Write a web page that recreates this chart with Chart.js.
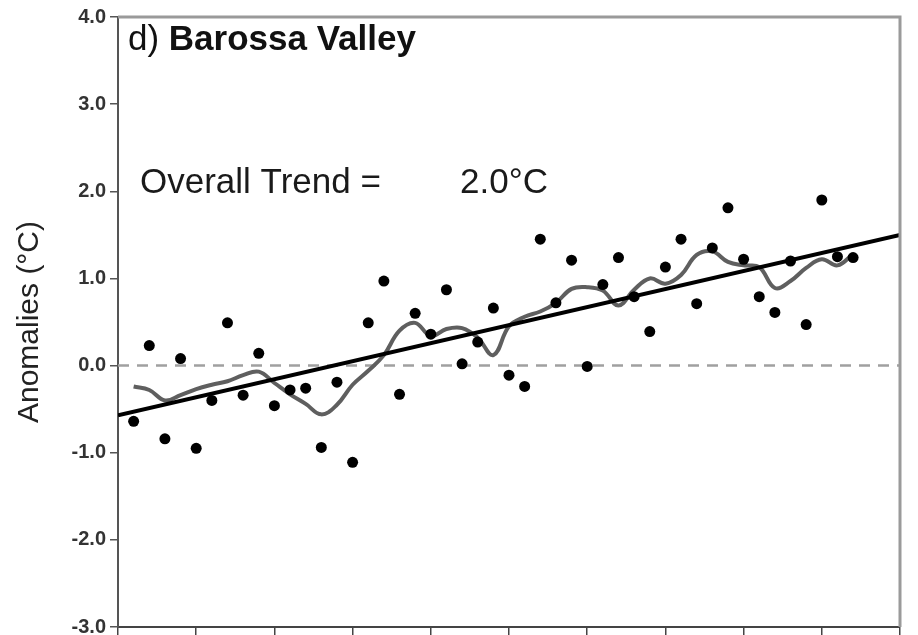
<!DOCTYPE html>
<html>
<head>
<meta charset="utf-8">
<script src="https://cdn.jsdelivr.net/npm/chart.js@4.4.0/dist/chart.umd.min.js"></script>
<style>
  html, body { margin: 0; padding: 0; background: #fff; }
  #wrap { width: 918px; height: 635px; position: relative; }
</style>
</head>
<body>
<div id="wrap"><canvas id="js-anomaly-chart"></canvas></div>
<script>
// yearly anomalies
var years = [1956, 1957, 1958, 1959, 1960, 1961, 1962, 1963, 1964, 1965,
  1966, 1967, 1968, 1969, 1970, 1971, 1972, 1973, 1974, 1975,
  1976, 1977, 1978, 1979, 1980, 1981, 1982, 1983, 1984, 1985,
  1986, 1987, 1988, 1989, 1990, 1991, 1992, 1993, 1994, 1995,
  1996, 1997, 1998, 1999, 2000, 2001, 2002]
var anomalies = [-0.64, 0.23, -0.84, 0.08, -0.95, -0.40, 0.49, -0.34, 0.14, -0.46,
  -0.28, -0.26, -0.94, -0.19, -1.11, 0.49, 0.97, -0.33, 0.60, 0.36,
  0.87, 0.02, 0.27, 0.66, -0.11, -0.24, 1.45, 0.72, 1.21, -0.01,
  0.93, 1.24, 0.79, 0.39, 1.13, 1.45, 0.71, 1.35, 1.81, 1.22,
  0.79, 0.61, 1.20, 0.47, 1.90, 1.25, 1.24]
var smoothed = [-0.24, -0.28, -0.40, -0.34, -0.27, -0.22, -0.18, -0.11, -0.07, -0.20,
  -0.33, -0.44, -0.56, -0.45, -0.22, -0.06, 0.12, 0.40, 0.49, 0.34,
  0.42, 0.43, 0.32, 0.12, 0.45, 0.56, 0.62, 0.72, 0.88, 0.90,
  0.86, 0.69, 0.87, 1.00, 0.94, 1.04, 1.27, 1.31, 1.19, 1.15,
  1.13, 0.89, 0.97, 1.12, 1.22, 1.15, 1.28]
var trendYears = [1955, 2005]
var trendValues = [-0.57, 1.50]
var yTicks = [-3, -2, -1, 0, 1, 2, 3, 4]

function pairs(xs, ys) {
  return xs.map(function (x, i) { return { x: x, y: ys[i] } })
}

var font = "'Liberation Sans', Arial, sans-serif"

// frame on top / right and the text inside the panel
var panelText = {
  id: "panelText",
  afterDraw: function (chart) {
    var c = chart.ctx
    var a = chart.chartArea
    var ys = chart.scales.y
    c.save()
    c.strokeStyle = "#9a9a9a"
    c.lineWidth = 3
    c.beginPath()
    c.moveTo(a.left, a.top)
    c.lineTo(a.right, a.top)
    c.lineTo(a.right, a.bottom)
    c.stroke()

    c.textBaseline = "alphabetic"
    c.fillStyle = "#111"
    c.font = "35px " + font
    c.fillText("d) ", a.left + 10, ys.getPixelForValue(3.62))
    var w = c.measureText("d) ").width
    c.font = "bold 35px " + font
    c.fillText("Barossa Valley", a.left + 10 + w, ys.getPixelForValue(3.62))

    c.fillStyle = "#1a1a1a"
    c.font = "35px " + font
    c.fillText("Overall Trend =", a.left + 22, ys.getPixelForValue(1.98))
    c.fillText("2.0°C", a.left + 342, ys.getPixelForValue(1.98))
    c.restore()
  }
}

var ctx = document.getElementById("js-anomaly-chart")

var chart = new Chart(ctx,
  {
    type: "scatter",
    data: {
      datasets: [
        {
          label: "zero",
          type: "line",
          data: pairs(trendYears, [0, 0]),
          borderColor: "#a0a0a0",
          borderWidth: 2.5,
          borderDash: [11, 8],
          pointRadius: 0,
          order: 4
        },
        {
          label: "smoothed",
          type: "line",
          data: pairs(years, smoothed),
          borderColor: "#5f5f5f",
          borderWidth: 4,
          tension: 0.4,
          pointRadius: 0,
          order: 3
        },
        {
          label: "trend",
          type: "line",
          data: pairs(trendYears, trendValues),
          borderColor: "#000",
          borderWidth: 4,
          pointRadius: 0,
          order: 2
        },
        {
          label: "anomalies",
          data: pairs(years, anomalies),
          backgroundColor: "#000",
          borderWidth: 0,
          pointRadius: 5.5,
          order: 1
        }
      ]
    },
    options: {
      responsive: true,
      maintainAspectRatio: false,
      animation: false,
      layout: {
        padding: { top: 17, right: 18, bottom: 0, left: 0 }
      },
      plugins: {
        legend: { display: false },
        tooltip: { enabled: false }
      },
      scales: {
        x: {
          type: "linear",
          min: 1955,
          max: 2005,
          ticks: {
            stepSize: 5,
            callback: function () { return "" }
          },
          grid: {
            drawOnChartArea: false,
            color: "#444",
            tickLength: 9,
            lineWidth: 1.5
          },
          border: { color: "#444", width: 2 },
          afterFit: function (scale) { scale.height = 4 }
        },
        y: {
          min: -3,
          max: 4,
          afterBuildTicks: function (scale) {
            scale.ticks = yTicks.map(function (v) { return { value: v } })
          },
          ticks: {
            color: "#333",
            padding: 4,
            font: { family: font, size: 20, weight: "bold", lineHeight: 0.4 },
            callback: function (v) { return v.toFixed(1) }
          },
          grid: {
            drawOnChartArea: false,
            color: "#555",
            tickLength: 8,
            lineWidth: 1.5
          },
          border: { color: "#555", width: 2 },
          title: {
            display: true,
            text: "Anomalies (°C)",
            color: "#222",
            font: { family: font, size: 30 },
            padding: { top: 12, bottom: 0 }
          },
          afterFit: function (scale) { scale.width = 118 }
        }
      }
    },
    plugins: [panelText]
  })
</script>
</body>
</html>
